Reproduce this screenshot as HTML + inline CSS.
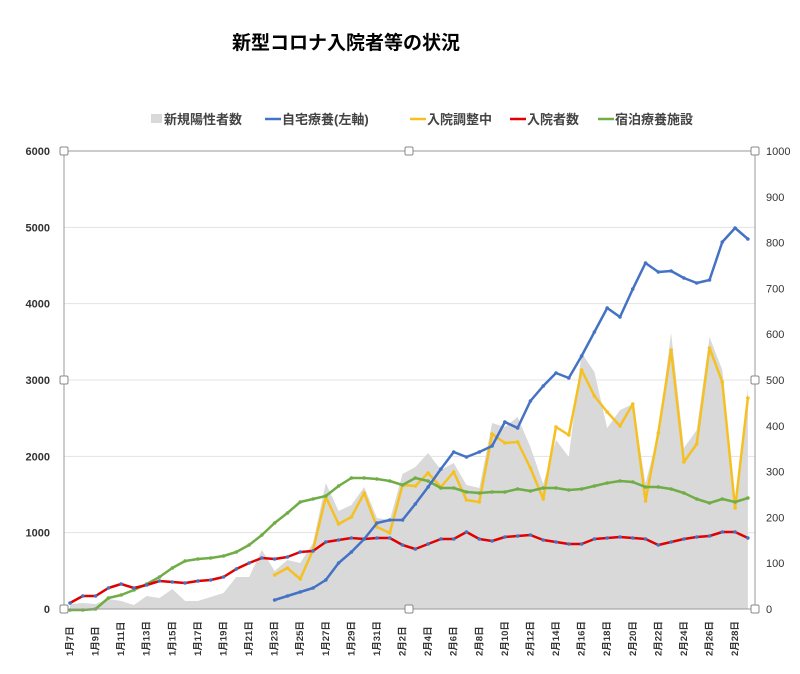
<!DOCTYPE html>
<html><head><meta charset="utf-8"><style>
body{margin:0;background:#fff;}
svg{display:block;font-family:"Liberation Sans","Noto Sans CJK JP",sans-serif;}
</style></head><body>
<svg id="c" width="800" height="674" viewBox="0 0 800 674" xmlns="http://www.w3.org/2000/svg">
<text x="346" y="49" text-anchor="middle" font-size="19" font-weight="bold" fill="#000">新型コロナ入院者等の状況</text>
<g font-size="13" font-weight="bold" fill="#444">
<rect x="151" y="114" width="11" height="9" fill="#d9d9d9"/><text x="164" y="124">新規陽性者数</text>
<line x1="265" y1="119" x2="281" y2="119" stroke="#4472c4" stroke-width="2.5"/><text x="282" y="124">自宅療養(左軸)</text>
<line x1="410" y1="119" x2="426" y2="119" stroke="#f5c021" stroke-width="2.5"/><text x="427" y="124">入院調整中</text>
<line x1="510" y1="119" x2="526" y2="119" stroke="#e00000" stroke-width="2.5"/><text x="527" y="124">入院者数</text>
<line x1="598" y1="119" x2="614" y2="119" stroke="#70ad47" stroke-width="2.5"/><text x="615" y="124">宿泊療養施設</text>
</g>
<g id="grid" stroke="#e3e3e3" stroke-width="1"></g>
<g id="data"></g>
<rect x="64" y="151" width="691" height="458" fill="none" stroke="#999" stroke-width="1"/>
<g id="ax" font-size="11"></g>
<g id="hd" fill="#fff" stroke="#888"></g>
</svg>
<script>
const NS="http://www.w3.org/2000/svg";
function el(p,t,a,txt){const e=document.createElementNS(NS,t);for(const k in a)e.setAttribute(k,a[k]);if(txt!==undefined)e.textContent=txt;p.appendChild(e);return e;}
const X=i=>70+12.79*i;
const grid=document.getElementById('grid'),ax=document.getElementById('ax'),data=document.getElementById('data'),hd=document.getElementById('hd');
for(let k=0;k<=6;k++){const y=609-k*76.33;if(k>0&&k<6)el(grid,'line',{x1:64,x2:755,y1:y,y2:y});
el(ax,'text',{x:50,y:y+4,'text-anchor':'end','font-weight':'bold',fill:'#333'},String(k*1000));}
for(let k=0;k<=10;k++){const y=609-k*45.8;el(ax,'text',{x:766,y:y+4,fill:'#333'},String(k*100));}
for(let i=0;i<=52;i+=2){const d=i<=24?('1月'+(7+i)+'日'):('2月'+(i-24)+'日');const x=X(i)+3;
el(ax,'text',{x:0,y:0,transform:`translate(${x},${656}) rotate(-90)`,'font-size':'9.5','font-weight':'bold',fill:'#333'},d);}
const gray=[604,603,604,599,601,605,596,598,589,601,601,597,593,577,577,550,571,560,563,543,483,511,505,487,518,520,474,467,453,470,463,485,488,423,427,417,447,484,440,457,353,372,428,410,404,483,434,333,448,430,337,370,503,388];
const red=[603,596,596,588,584,588,585,581,582,583,581,580,577,569,563,558,559,557,552,551,542,540,538,539,538,538,545,549,544,539,539,532,539,541,537,536,535,540,542,544,544,539,538,537,538,539,545,542,539,537,536,532,532,538];
const green=[610,610,609,598,595,590,584,577,568,561,559,558,556,552,545,535,523,513,502,499,496,486,478,478,479,481,485,478,481,488,488,492,493,492,492,489,491,488,488,490,489,486,483,481,482,487,487,489,493,499,503,499,502,498];
const blue=[600,596,592,588,580,563,552,539,523,520,520,504,487,469,452,457,452,446,422,428,401,386,373,378,356,332,308,317,289,263,272,271,278,283,280,242,228,239];
const yel=[575,568,579,550,497,524,517,493,527,533,485,486,473,487,472,500,502,434,443,442,468,499,427,435,370,396,412,426,404,501,433,350,462,444,348,382,508,398];
let d='M'+X(0)+',609';gray.forEach((y,i)=>d+=' L'+X(i).toFixed(1)+','+y);d+=' L'+X(53)+',609 Z';
el(data,'path',{d,fill:'#d9d9d9'});
function line(arr,off,col,mk){const pts=arr.map((y,i)=>X(i+off).toFixed(1)+','+y).join(' ');
el(data,'polyline',{points:pts,fill:'none',stroke:col,'stroke-width':2.5,'stroke-linejoin':'round'});
arr.forEach((y,i)=>el(data,'circle',{cx:X(i+off),cy:y,r:1.8,fill:mk}));}
line(yel,16,'#f5c021','#f5c021');
line(green,0,'#70ad47','#70ad47');
line(red,0,'#e00000','#4472c4');
line(blue,16,'#4472c4','#4472c4');
[[64,151],[409,151],[755,151],[64,380],[755,380],[64,609],[409,609],[755,609]].forEach(([x,y])=>el(hd,'rect',{x:x-4,y:y-4,width:8,height:8,rx:1.5}));
</script>
</body></html>
